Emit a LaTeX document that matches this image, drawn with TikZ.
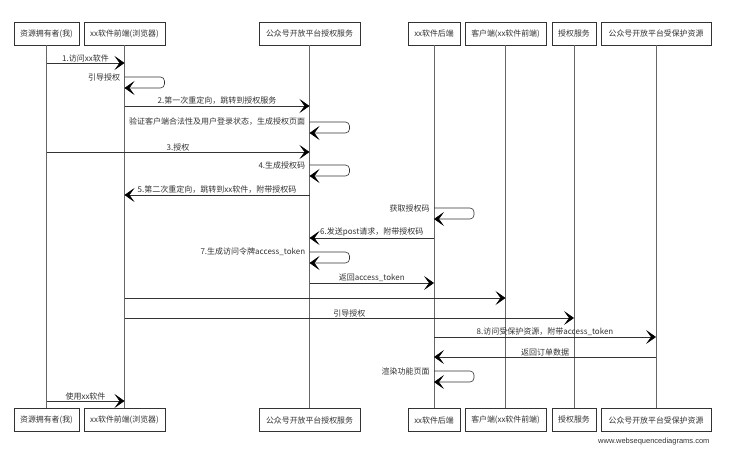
\documentclass[tikz,border=0pt]{standalone}
\usepackage{fontspec}
\setmainfont{Noto Sans CJK SC}
\newfontfamily\footfont{Liberation Sans}
\usetikzlibrary{arrows.meta}
\definecolor{ink}{HTML}{333333}
\definecolor{lline}{HTML}{666666}
\tikzset{
  actor/.style={draw=ink, line width=0.7pt, fill=white, minimum height=23pt, inner sep=0pt, font=\fontsize{7.9}{9}\selectfont, text=ink},
  life/.style={draw=lline, line width=0.6pt},
  msg/.style={draw=ink, line width=0.6pt, -{Stealth[length=10pt,width=14pt,inset=5pt,color=black]}},
  selfmsg/.style={msg, rounded corners=4pt},
  lbl/.style={font=\fontsize{8}{9}\selectfont, text=ink, inner sep=1pt},
}
\begin{document}
\begin{tikzpicture}[x=1pt,y=-1pt]
\useasboundingbox (0,0) rectangle (735,462);
% top actors
\node[actor, minimum width=65pt]  (h1) at (46.5,33.5) {资源拥有者(我)};
\node[actor, minimum width=81pt]  (h2) at (124.5,33.5) {xx软件前端(浏览器)};
\node[actor, minimum width=101pt] (h3) at (309.5,33.5) {公众号开放平台授权服务};
\node[actor, minimum width=52pt]  (h4) at (434,33.5) {xx软件后端};
\node[actor, minimum width=81pt]  (h5) at (505.5,33.5) {客户端(xx软件前端)};
\node[actor, minimum width=44pt]  (h6) at (574,33.5) {授权服务};
\node[actor, minimum width=110pt] (h7) at (656,33.5) {公众号开放平台受保护资源};
% bottom actors
\node[actor, minimum width=65pt]  (b1) at (46.5,420) {资源拥有者(我)};
\node[actor, minimum width=81pt]  (b2) at (124.5,420) {xx软件前端(浏览器)};
\node[actor, minimum width=101pt] (b3) at (309.5,420) {公众号开放平台授权服务};
\node[actor, minimum width=52pt]  (b4) at (434,420) {xx软件后端};
\node[actor, minimum width=81pt]  (b5) at (505.5,420) {客户端(xx软件前端)};
\node[actor, minimum width=44pt]  (b6) at (574,420) {授权服务};
\node[actor, minimum width=110pt] (b7) at (656,420) {公众号开放平台受保护资源};
% lifelines
\foreach \i in {1,...,7} {\draw[life] (h\i.south) -- (b\i.north);}
% messages
\draw[msg] (h1 |- 0,63) -- node[lbl, above]{1.访问xx软件} (h2 |- 0,63);
\draw[selfmsg] (h2 |- 0,77) node[lbl, anchor=east, xshift=-3pt]{引导授权} -- ++(40,0) -- ++(0,11) -- (h2 |- 0,88);
\draw[msg] (h2 |- 0,106) -- node[lbl, above]{2.第一次重定向，跳转到授权服务} (h3 |- 0,106);
\draw[selfmsg] (h3 |- 0,122) node[lbl, anchor=east, xshift=-3pt]{验证客户端合法性及用户登录状态，生成授权页面} -- ++(40,0) -- ++(0,11) -- (h3 |- 0,133);
\draw[msg] (h1 |- 0,152) -- node[lbl, above]{3.授权} (h3 |- 0,152);
\draw[selfmsg] (h3 |- 0,165) node[lbl, anchor=east, xshift=-3pt]{4.生成授权码} -- ++(40,0) -- ++(0,11) -- (h3 |- 0,176);
\draw[msg] (h3 |- 0,195) -- node[lbl, above]{5.第二次重定向，跳转到xx软件，附带授权码} (h2 |- 0,195);
\draw[selfmsg] (h4 |- 0,208) node[lbl, anchor=east, xshift=-3pt]{获取授权码} -- ++(40,0) -- ++(0,11) -- (h4 |- 0,219);
\draw[msg] (h4 |- 0,238) -- node[lbl, above]{6.发送post请求，附带授权码} (h3 |- 0,238);
\draw[selfmsg] (h3 |- 0,252) node[lbl, anchor=east, xshift=-3pt]{7.生成访问令牌access\_token} -- ++(40,0) -- ++(0,11) -- (h3 |- 0,263);
\draw[msg] (h3 |- 0,283) -- node[lbl, above]{返回access\_token} (h4 |- 0,283);
\draw[msg] (h2 |- 0,298) -- (h5 |- 0,298);
\draw[msg] (h2 |- 0,318) -- node[lbl, above]{引导授权} (h6 |- 0,318);
\draw[msg] (h4 |- 0,337) -- node[lbl, above]{8.访问受保护资源，附带access\_token} (h7 |- 0,337);
\draw[msg] (h7 |- 0,357) -- node[lbl, above]{返回订单数据} (h4 |- 0,357);
\draw[selfmsg] (h4 |- 0,371) node[lbl, anchor=east, xshift=-3pt]{渲染功能页面} -- ++(40,0) -- ++(0,11) -- (h4 |- 0,382);
\draw[msg] (h1 |- 0,401) -- node[lbl, above]{使用xx软件} (h2 |- 0,401);
% footer
\node[font=\footfont\fontsize{7.5}{9}\selectfont, text=ink, anchor=east] (foot) at (713,442) {www.websequencediagrams.com};
\end{tikzpicture}
\end{document}
